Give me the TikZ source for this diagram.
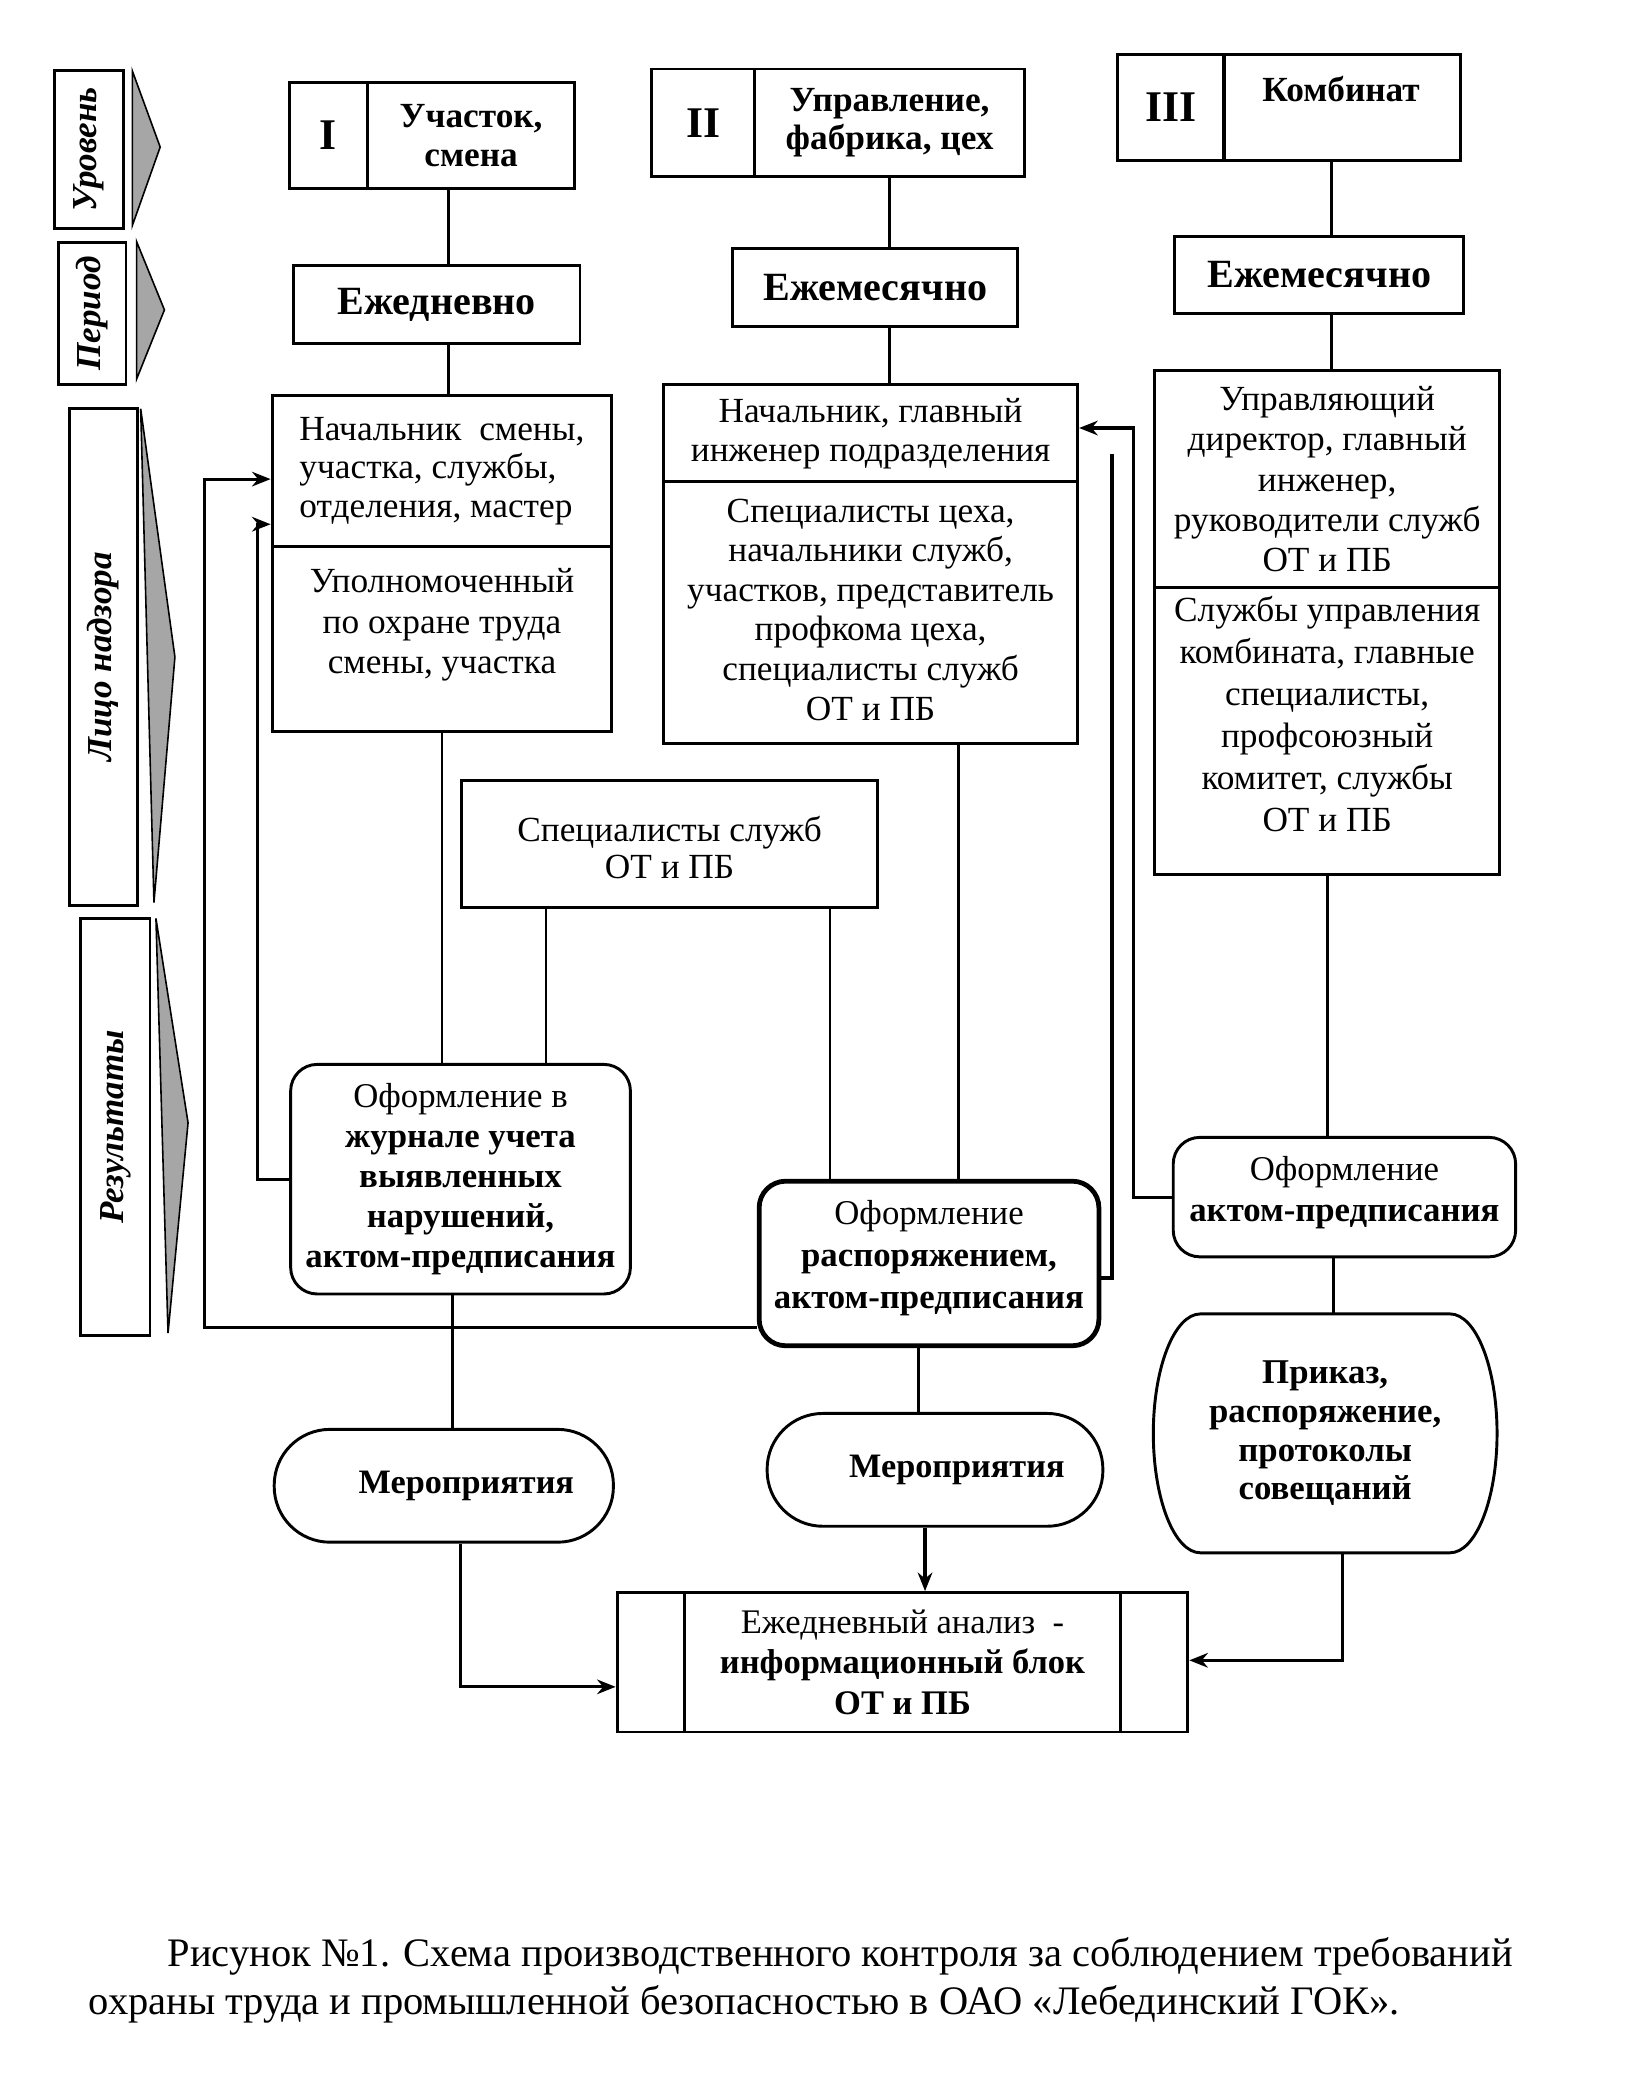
\documentclass[tikz,border=0pt]{standalone}
\usepackage{fontspec}
\setmainfont{Liberation Serif}
\usetikzlibrary{arrows.meta,calc}
\begin{document}
\begin{tikzpicture}[x=0.5pt,y=-0.5pt,
  bx/.style={draw, line width=1.1pt, align=center, inner sep=1pt, font=\fontsize{13.3}{14.6}\selectfont},
  bbx/.style={bx, font=\fontsize{13.3}{14.6}\selectfont\bfseries},
  per/.style={bx, font=\fontsize{15.1}{16}\selectfont\bfseries},
  num/.style={bx, font=\fontsize{16.5}{17}\selectfont\bfseries},
  rbx/.style={bx, rounded corners=10pt},
  ln/.style={line width=1pt},
  fb/.style={line width=1.3pt},
  arr/.style={line width=1.2pt, -{Stealth[length=7pt,width=5.5pt]}},
  lab/.style={draw, line width=1.1pt, rotate=90, font=\fontsize{13.2}{14}\selectfont\bfseries\itshape, inner sep=1pt},
  tri/.style={fill=black!35, draw=black, line width=0.6pt},
  captxt/.style={anchor=west, inner sep=0pt, font=\fontsize{15.25}{16}\selectfont}
]
\useasboundingbox[fill=white] (0,0) rectangle (1240,1568);

% left labels
\node[lab, minimum width=59.3pt, minimum height=25.75pt] (lv) at (67,112.7) {Уровень};
\node[lab, minimum width=53.5pt, minimum height=25.35pt] (pd) at (69.6,236) {Период};
\node[lab, minimum width=187pt, minimum height=25.35pt] (lc) at (78,495) {Лицо надзора};
\node[lab, minimum width=157pt, minimum height=26pt] (rs) at (87,849) {Результаты};
\filldraw[tri] (99.7,53.4) -- (120.7,110.8) -- (99.7,170) -- cycle;
\filldraw[tri] (102.9,182) -- (123.9,233.5) -- (102.9,285.7) -- cycle;
\filldraw[tri] (106,308) -- (131.8,495) -- (116,680) -- cycle;
\filldraw[tri] (117.5,692) -- (141.7,846) -- (126.6,1004.5) -- cycle;

% levels
\node[num, minimum width=29.5pt, minimum height=40pt] (l1n) at (247.5,102) {I};
\node[bbx, minimum width=78pt, minimum height=40pt] (l1t) at (355,102) {Участок,\\смена};
\node[num, minimum width=38.8pt, minimum height=40.5pt] (l2n) at (529.8,92.5) {II};
\node[bbx, minimum width=101.7pt, minimum height=40.5pt] (l2t) at (670.3,92.5) {Управление,\\фабрика, цех};
\node[num, minimum width=40pt, minimum height=40pt] (l3n) at (882,81) {III};
\node[bbx, minimum width=89pt, minimum height=40pt] (l3t) at (1011.4,81) {};
\node[font=\fontsize{13.3}{14.6}\selectfont\bfseries, inner sep=0pt] (l3txt) at (1010.5,67) {Комбинат};

% periods
\node[per, minimum width=108pt, minimum height=29.5pt] (p1) at (329,229.5) {Ежедневно};
\node[per, minimum width=107.5pt, minimum height=29.5pt] (p2) at (659.5,216.5) {Ежемесячно};
\node[per, minimum width=109pt, minimum height=29pt] (p3) at (994,207) {Ежемесячно};

% supervisors
\node[bx, align=left, minimum width=128pt, minimum height=57pt] (s1a) at (333,355) {Начальник\ \ смены,\\участка, службы,\\отделения, мастер};
\node[bx, minimum width=128pt, minimum height=69.5pt, font=\fontsize{13.3}{15.2}\selectfont] (s1b) at (333,481.5) {Уполномоченный\\по охране труда\\смены, участка\\[-1.6pt]\mbox{}};
\node[bx, minimum width=156pt, minimum height=36.5pt] (s2a) at (656,326.5) {Начальник, главный\\инженер подразделения};
\node[bx, minimum width=156pt, minimum height=98.5pt, font=\fontsize{13.3}{14.9}\selectfont] (s2b) at (656,461.5) {\mbox{}\\[-8.2pt]Специалисты цеха,\\начальники служб,\\участков, представитель\\профкома цеха,\\специалисты служб\\ОТ и ПБ};
\node[bx, minimum width=130pt, minimum height=82pt, font=\fontsize{13.3}{15.1}\selectfont] (s3a) at (1000,361) {Управляющий\\директор, главный\\инженер,\\руководители служб\\ОТ и ПБ};
\node[bx, minimum width=130pt, minimum height=108pt, font=\fontsize{13.3}{15.8}\selectfont] (s3b) at (1000,551) {Службы управления\\комбината, главные\\специалисты,\\профсоюзный\\комитет, службы\\ОТ и ПБ\\[-2.8pt]\mbox{}};
\node[bx, minimum width=156.5pt, minimum height=48pt, font=\fontsize{13.3}{13.9}\selectfont] (sp) at (504.5,636) {\mbox{}\\[-2pt]Специалисты служб\\ОТ и ПБ};

% results
\node[rbx, minimum width=128pt, minimum height=86.5pt, font=\fontsize{13.1}{15.1}\selectfont] (r1) at (347,888.5) {Оформление в\\\textbf{журнале учета}\\\textbf{выявленных}\\\textbf{нарушений,}\\\textbf{актом-предписания}};
\node[rbx, line width=1.8pt, minimum width=128pt, minimum height=62pt, font=\fontsize{13.1}{15.8}\selectfont] (r2) at (700,952) {Оформление\\\textbf{распоряжением,}\\\textbf{актом-предписания}\\[-8.8pt]\mbox{}};
\node[rbx, minimum width=129pt, minimum height=45pt, font=\fontsize{13.1}{15.25}\selectfont] (r3) at (1013,902) {Оформление\\\textbf{актом-предписания}\\[-9.25pt]\mbox{}};

% bottom
\node[bbx, rounded corners=21pt, minimum width=127.8pt, minimum height=42.5pt, font=\fontsize{12.9}{14}\selectfont\bfseries] (m1) at (334.4,1119.5) {\hspace*{17pt}Мероприятия};
\node[bbx, rounded corners=21pt, minimum width=126.5pt, minimum height=42.5pt, font=\fontsize{12.9}{14}\selectfont\bfseries] (m2) at (704.5,1107.5) {\hspace*{16.5pt}Мероприятия};
\node[align=center, inner sep=0pt, outer sep=0pt, minimum width=129.5pt, minimum height=90pt, font=\fontsize{13.1}{14.6}\selectfont\bfseries] (pr) at (998.5,1080) {Приказ,\\распоряжение,\\протоколы\\совещаний};
\draw[line width=1.1pt] ([xshift=-47pt]pr.north) -- ([xshift=47pt]pr.north)
  .. controls ([xshift=56.8pt]pr.north) and ([yshift=24.8pt]pr.east) .. (pr.east)
  .. controls ([yshift=-24.8pt]pr.east) and ([xshift=56.8pt]pr.south) .. ([xshift=47pt]pr.south)
  -- ([xshift=-47pt]pr.south)
  .. controls ([xshift=-56.8pt]pr.south) and ([yshift=-24.8pt]pr.west) .. (pr.west)
  .. controls ([yshift=24.8pt]pr.west) and ([xshift=-56.8pt]pr.north) .. cycle;
\node[bx, minimum width=215pt, minimum height=52.5pt, font=\fontsize{13}{15.4}\selectfont] (info) at (680,1252.5) {Ежедневный анализ\ \ -\\\textbf{информационный блок}\\\textbf{ОТ и ПБ}};
\draw[ln] ([xshift=26pt]info.north west) -- ([xshift=26pt]info.south west);
\draw[ln] ([xshift=-26pt]info.north east) -- ([xshift=-26pt]info.south east);

% caption
\node[captxt] (cap1) at (126,1474) {Рисунок №1. Схема производственного контроля за соблюдением требований};
\node[captxt] (cap2) at (66.5,1510) {охраны труда и промышленной безопасностью в ОАО «Лебединский ГОК».};

% vertical chains
\coordinate (cI) at ([xshift=-8.5pt]l1t.south);
\coordinate (cIII) at ([xshift=-4pt]l3t.south);
\draw[ln] (cI) -- (cI |- p1.north);
\draw[ln] (cI |- p1.south) -- (cI |- s1a.north);
\draw[ln] (l2t.south) -- (l2t.south |- p2.north);
\draw[ln] (l2t.south |- p2.south) -- (l2t.south |- s2a.north);
\draw[ln] (cIII) -- (cIII |- p3.north);
\draw[ln] (cIII |- p3.south) -- (cIII |- s3a.north);

% to results
\coordinate (spl) at ([xshift=-46.5pt]sp.south);
\coordinate (spr) at ([xshift=60.5pt]sp.south);
\coordinate (s2r) at ([xshift=33pt]s2b.south);
\draw[ln] (s1b.south) -- (s1b.south |- r1.north);
\draw[ln] (spl) -- (spl |- r1.north);
\draw[ln] (spr) -- (spr |- r2.north);
\draw[ln] (s2r) -- (s2r |- r2.north);
\draw[ln] (s3b.south) -- (s3b.south |- r3.north);

% feedback
\draw[arr] (r3.west) -- ++(-14.5pt,0) |- ([yshift=2pt]s2a.east);
\coordinate (fb2) at (838,342);
\draw[fb] ([yshift=-5.5pt]r2.east) -| (fb2);
\draw[arr] ([yshift=-24pt]r2.west) -- ++(-208pt,0) |- ([yshift=-3pt]s1a.west);
\draw[arr] (r1.west) -- ++(-12pt,0) |- ([yshift=-20pt]s1a.west);

% bottom connectors
\coordinate (c1) at ([xshift=-3pt]r1.south);
\draw[ln] (c1) -- (c1 |- m1.north);
\draw[arr] ([xshift=3pt]c1 |- m1.south) |- ([yshift=-9.25pt]info.west);
\coordinate (c2) at ([xshift=-4pt]r2.south);
\draw[ln] (c2) -- (c2 |- m2.north);
\coordinate (c2b) at ([xshift=-3.75pt]m2.south);
\draw[arr] (c2b) -- (c2b |- info.north);
\coordinate (c3) at ([xshift=-4pt]r3.south);
\draw[ln] (c3) -- (c3 |- pr.north);
\coordinate (c3b) at ([xshift=6.5pt]pr.south);
\draw[arr] (c3b) |- ([yshift=0.75pt]info.east);
\end{tikzpicture}
\end{document}
